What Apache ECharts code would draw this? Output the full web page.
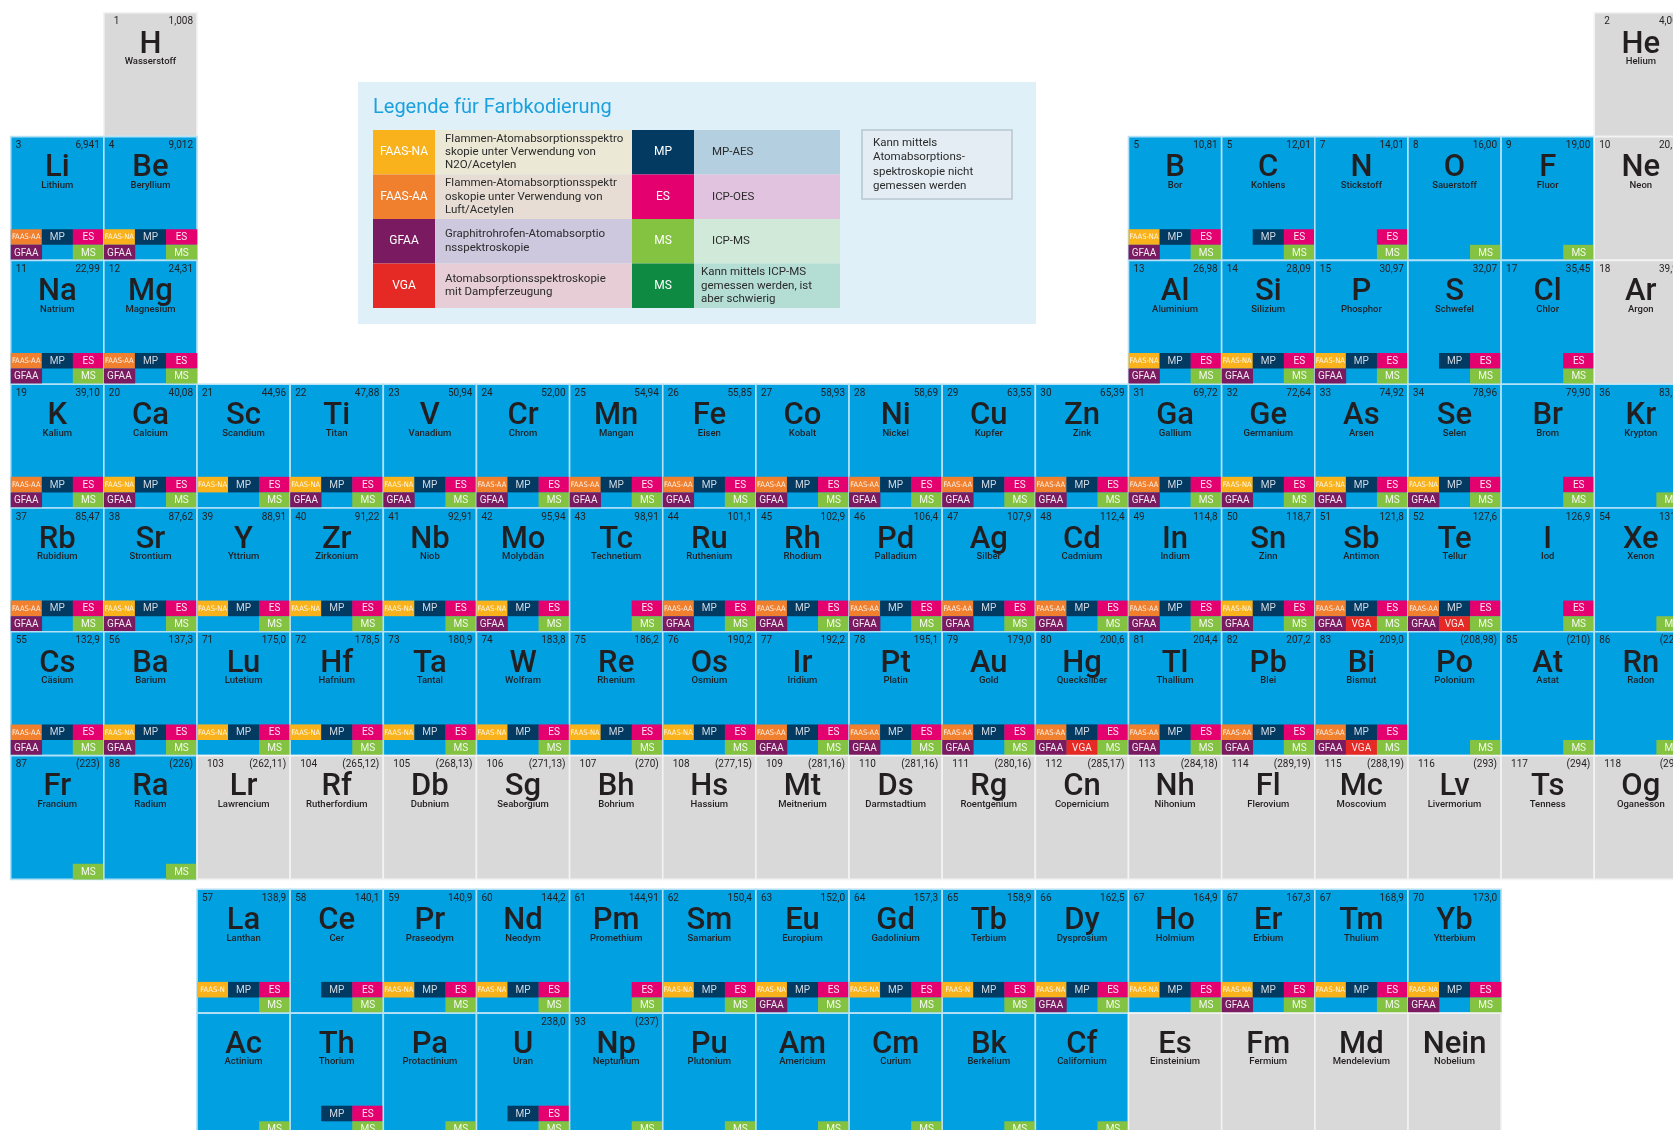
<!DOCTYPE html>
<html>
<head>
<meta charset="utf-8">
<title>Periodensystem – Messmethoden</title>
<script src="https://cdn.jsdelivr.net/npm/echarts@6/dist/echarts.min.js"></script>
<style>
  html, body { margin: 0; padding: 0; background: #fff; }
  #chart { width: 1673px; height: 1130px; }
</style>
</head>
<body>
<div id="chart"></div>
<script>
// [Symbol, Name, Ordnungszahl, Atommasse, Spalte, Methoden]
// Methoden: NA/AA/N = FAAS, MP, ES, GF = GFAA, VG = VGA, MS ; X = grau (nicht messbar)
var period1 = [
  ['H', 'Wasserstoff', '1', '1,008', 1, 'X'],
  ['He', 'Helium', '2', '4,003', 17, 'X']
];
var period2 = [
  ['Li', 'Lithium', '3', '6,941', 0, 'AA MP ES GF MS'],
  ['Be', 'Beryllium', '4', '9,012', 1, 'NA MP ES GF MS'],
  ['B', 'Bor', '5', '10,81', 12, 'NA MP ES GF MS'],
  ['C', 'Kohlens', '5', '12,01', 13, 'MP ES MS'],
  ['N', 'Stickstoff', '7', '14,01', 14, 'ES MS'],
  ['O', 'Sauerstoff', '8', '16,00', 15, 'MS'],
  ['F', 'Fluor', '9', '19,00', 16, 'MS'],
  ['Ne', 'Neon', '10', '20,18', 17, 'X']
];
var period3 = [
  ['Na', 'Natrium', '11', '22,99', 0, 'AA MP ES GF MS'],
  ['Mg', 'Magnesium', '12', '24,31', 1, 'AA MP ES GF MS'],
  ['Al', 'Aluminium', '13', '26,98', 12, 'NA MP ES GF MS'],
  ['Si', 'Silizium', '14', '28,09', 13, 'NA MP ES GF MS'],
  ['P', 'Phosphor', '15', '30,97', 14, 'NA MP ES GF MS'],
  ['S', 'Schwefel', '', '32,07', 15, 'MP ES MS'],
  ['Cl', 'Chlor', '17', '35,45', 16, 'ES MS'],
  ['Ar', 'Argon', '18', '39,95', 17, 'X']
];
var period4 = [
  ['K', 'Kalium', '19', '39,10', 0, 'AA MP ES GF MS'],
  ['Ca', 'Calcium', '20', '40,08', 1, 'NA MP ES GF MS'],
  ['Sc', 'Scandium', '21', '44,96', 2, 'NA MP ES MS'],
  ['Ti', 'Titan', '22', '47,88', 3, 'NA MP ES GF MS'],
  ['V', 'Vanadium', '23', '50,94', 4, 'NA MP ES GF MS'],
  ['Cr', 'Chrom', '24', '52,00', 5, 'AA MP ES GF MS'],
  ['Mn', 'Mangan', '25', '54,94', 6, 'AA MP ES GF MS'],
  ['Fe', 'Eisen', '26', '55,85', 7, 'AA MP ES GF MS'],
  ['Co', 'Kobalt', '27', '58,93', 8, 'AA MP ES GF MS'],
  ['Ni', 'Nickel', '28', '58,69', 9, 'AA MP ES GF MS'],
  ['Cu', 'Kupfer', '29', '63,55', 10, 'AA MP ES GF MS'],
  ['Zn', 'Zink', '30', '65,39', 11, 'AA MP ES GF MS'],
  ['Ga', 'Gallium', '31', '69,72', 12, 'AA MP ES GF MS'],
  ['Ge', 'Germanium', '32', '72,64', 13, 'NA MP ES GF MS'],
  ['As', 'Arsen', '33', '74,92', 14, 'NA MP ES GF MS'],
  ['Se', 'Selen', '34', '78,96', 15, 'NA MP ES GF MS'],
  ['Br', 'Brom', '', '79,90', 16, 'ES MS'],
  ['Kr', 'Krypton', '36', '83,80', 17, 'MS']
];
var period5 = [
  ['Rb', 'Rubidium', '37', '85,47', 0, 'AA MP ES GF MS'],
  ['Sr', 'Strontium', '38', '87,62', 1, 'NA MP ES GF MS'],
  ['Y', 'Yttrium', '39', '88,91', 2, 'NA MP ES MS'],
  ['Zr', 'Zirkonium', '40', '91,22', 3, 'NA MP ES MS'],
  ['Nb', 'Niob', '41', '92,91', 4, 'NA MP ES MS'],
  ['Mo', 'Molybdän', '42', '95,94', 5, 'NA MP ES GF MS'],
  ['Tc', 'Technetium', '43', '98,91', 6, 'ES MS'],
  ['Ru', 'Ruthenium', '44', '101,1', 7, 'AA MP ES GF MS'],
  ['Rh', 'Rhodium', '45', '102,9', 8, 'AA MP ES GF MS'],
  ['Pd', 'Palladium', '46', '106,4', 9, 'AA MP ES GF MS'],
  ['Ag', 'Silber', '47', '107,9', 10, 'AA MP ES GF MS'],
  ['Cd', 'Cadmium', '48', '112,4', 11, 'AA MP ES GF MS'],
  ['In', 'Indium', '49', '114,8', 12, 'AA MP ES GF MS'],
  ['Sn', 'Zinn', '50', '118,7', 13, 'NA MP ES GF MS'],
  ['Sb', 'Antimon', '51', '121,8', 14, 'AA MP ES GF VG MS'],
  ['Te', 'Tellur', '52', '127,6', 15, 'AA MP ES GF VG MS'],
  ['I', 'Iod', '', '126,9', 16, 'ES MS'],
  ['Xe', 'Xenon', '54', '131,3', 17, 'MS']
];
var period6 = [
  ['Cs', 'Cäsium', '55', '132,9', 0, 'AA MP ES GF MS'],
  ['Ba', 'Barium', '56', '137,3', 1, 'NA MP ES GF MS'],
  ['Lu', 'Lutetium', '71', '175,0', 2, 'NA MP ES MS'],
  ['Hf', 'Hafnium', '72', '178,5', 3, 'NA MP ES MS'],
  ['Ta', 'Tantal', '73', '180,9', 4, 'NA MP ES MS'],
  ['W', 'Wolfram', '74', '183,8', 5, 'NA MP ES MS'],
  ['Re', 'Rhenium', '75', '186,2', 6, 'NA MP ES MS'],
  ['Os', 'Osmium', '76', '190,2', 7, 'NA MP ES MS'],
  ['Ir', 'Iridium', '77', '192,2', 8, 'AA MP ES GF MS'],
  ['Pt', 'Platin', '78', '195,1', 9, 'AA MP ES GF MS'],
  ['Au', 'Gold', '79', '179,0', 10, 'AA MP ES GF MS'],
  ['Hg', 'Quecksilber', '80', '200,6', 11, 'AA MP ES GF VG MS'],
  ['Tl', 'Thallium', '81', '204,4', 12, 'AA MP ES GF MS'],
  ['Pb', 'Blei', '82', '207,2', 13, 'AA MP ES GF MS'],
  ['Bi', 'Bismut', '83', '209,0', 14, 'AA MP ES GF VG MS'],
  ['Po', 'Polonium', '', '(208,98)', 15, 'MS'],
  ['At', 'Astat', '85', '(210)', 16, 'MS'],
  ['Rn', 'Radon', '86', '(222)', 17, 'MS']
];
var period7 = [
  ['Fr', 'Francium', '87', '(223)', 0, 'MS'],
  ['Ra', 'Radium', '88', '(226)', 1, 'MS'],
  ['Lr', 'Lawrencium', '103', '(262,11)', 2, 'X'],
  ['Rf', 'Rutherfordium', '104', '(265,12)', 3, 'X'],
  ['Db', 'Dubnium', '105', '(268,13)', 4, 'X'],
  ['Sg', 'Seaborgium', '106', '(271,13)', 5, 'X'],
  ['Bh', 'Bohrium', '107', '(270)', 6, 'X'],
  ['Hs', 'Hassium', '108', '(277,15)', 7, 'X'],
  ['Mt', 'Meitnerium', '109', '(281,16)', 8, 'X'],
  ['Ds', 'Darmstadtium', '110', '(281,16)', 9, 'X'],
  ['Rg', 'Roentgenium', '111', '(280,16)', 10, 'X'],
  ['Cn', 'Copernicium', '112', '(285,17)', 11, 'X'],
  ['Nh', 'Nihonium', '113', '(284,18)', 12, 'X'],
  ['Fl', 'Flerovium', '114', '(289,19)', 13, 'X'],
  ['Mc', 'Moscovium', '115', '(288,19)', 14, 'X'],
  ['Lv', 'Livermorium', '116', '(293)', 15, 'X'],
  ['Ts', 'Tenness', '117', '(294)', 16, 'X'],
  ['Og', 'Oganesson', '118', '(294)', 17, 'X']
];
var lanthanides = [
  ['La', 'Lanthan', '57', '138,9', 2, 'N MP ES MS'],
  ['Ce', 'Cer', '58', '140,1', 3, 'MP ES MS'],
  ['Pr', 'Praseodym', '59', '140,9', 4, 'NA MP ES MS'],
  ['Nd', 'Neodym', '60', '144,2', 5, 'NA MP ES MS'],
  ['Pm', 'Promethium', '61', '144,91', 6, 'ES MS'],
  ['Sm', 'Samarium', '62', '150,4', 7, 'NA MP ES MS'],
  ['Eu', 'Europium', '63', '152,0', 8, 'NA MP ES GF MS'],
  ['Gd', 'Gadolinium', '64', '157,3', 9, 'NA MP ES MS'],
  ['Tb', 'Terbium', '65', '158,9', 10, 'N MP ES MS'],
  ['Dy', 'Dysprosium', '66', '162,5', 11, 'NA MP ES GF MS'],
  ['Ho', 'Holmium', '67', '164,9', 12, 'NA MP ES MS'],
  ['Er', 'Erbium', '67', '167,3', 13, 'NA MP ES GF MS'],
  ['Tm', 'Thulium', '67', '168,9', 14, 'NA MP ES MS'],
  ['Yb', 'Ytterbium', '70', '173,0', 15, 'NA MP ES GF MS']
];
var actinides = [
  ['Ac', 'Actinium', '', '', 2, 'MS'],
  ['Th', 'Thorium', '', '', 3, 'MP ES MS'],
  ['Pa', 'Protactinium', '', '', 4, 'MS'],
  ['U', 'Uran', '', '238,0', 5, 'MP ES MS'],
  ['Np', 'Neptunium', '93', '(237)', 6, 'MS'],
  ['Pu', 'Plutonium', '', '', 7, 'MS'],
  ['Am', 'Americium', '', '', 8, 'MS'],
  ['Cm', 'Curium', '', '', 9, 'MS'],
  ['Bk', 'Berkelium', '', '', 10, 'MS'],
  ['Cf', 'Californium', '', '', 11, 'MS'],
  ['Es', 'Einsteinium', '', '', 12, 'X'],
  ['Fm', 'Fermium', '', '', 13, 'X'],
  ['Md', 'Mendelevium', '', '', 14, 'X'],
  ['Nein', 'Nobelium', '', '', 15, 'X']
];

// Legende
var legendCodesLeft = ['FAAS-NA', 'FAAS-AA', 'GFAA', 'VGA'];
var legendTextsLeft = [
  'Flammen-Atomabsorptionsspektro\nskopie unter Verwendung von\nN2O/Acetylen',
  'Flammen-Atomabsorptionsspektr\noskopie unter Verwendung von\nLuft/Acetylen',
  'Graphitrohrofen-Atomabsorptio\nnsspektroskopie',
  'Atomabsorptionsspektroskopie\nmit Dampferzeugung'
];
var legendCodesRight = ['MP', 'ES', 'MS', 'MS'];
var legendTextsRight = ['MP-AES', 'ICP-OES', 'ICP-MS', 'Kann mittels ICP-MS\ngemessen werden, ist\naber schwierig'];
var legendNote = 'Kann mittels\nAtomabsorptions-\nspektroskopie nicht\ngemessen werden';

var badgeColors = {
  NA: '#f9b21b', AA: '#f07f2e', N: '#f9b21b', MP: '#023a62', ES: '#e4006f',
  GF: '#7a1a61', VG: '#e52a25', MS: '#84c242'
};
var badgeLabels = {
  NA: 'FAAS-NA', AA: 'FAAS-AA', N: 'FAAS-N', MP: 'MP', ES: 'ES', GF: 'GFAA', VG: 'VGA', MS: 'MS'
};
// Platz im 3x2-Raster unten in der Zelle
var badgeSlots = {
  NA: [0, 0], AA: [0, 0], N: [0, 0], MP: [1, 0], ES: [2, 0], GF: [0, 1], VG: [1, 1], MS: [2, 1]
};

var periods = [period1, period2, period3, period4, period5, period6, period7, lanthanides, actinides];
var rowValues = [0, 1, 2, 3, 4, 5, 6, 7.08, 8.08];

var cells = [];
var seriesData = [];
periods.forEach(function (list, p) {
  list.forEach(function (e) {
    cells.push({ sym: e[0], name: e[1], num: e[2], weight: e[3], methods: e[5], row: p });
    seriesData.push([e[4], rowValues[p]]);
  });
});

function txt(s, x, y, align, font, fill) {
  return {
    type: 'text',
    style: {
      text: s, x: x, y: y, font: font, fill: fill || '#231f20',
      textAlign: align, textVerticalAlign: 'middle'
    }
  };
}

function renderCell(params, api) {
  var el = cells[params.dataIndex];
  var a = api.coord([api.value(0), api.value(1)]);
  var b = api.coord([api.value(0) + 1, api.value(1) + 1]);
  var x = a[0], y = a[1], w = b[0] - a[0], h = b[1] - a[1];
  var gray = el.methods === 'X';
  var children = [{
    type: 'rect',
    shape: { x: x, y: y, width: w, height: h },
    style: {
      fill: gray ? '#d9d9d9' : '#00a0e1',
      stroke: gray ? '#f3f3f3' : '#b4e1f6',
      lineWidth: 1.6
    }
  }];
  var padL = (el.row === 6 && gray) || el.row === 0 ? 10 : 5;
  children.push(txt(el.num, x + padL, y + 9, 'left', '10px Roboto'));
  children.push(txt(el.weight, x + w - 4, y + 9, 'right', '10px Roboto'));
  children.push(txt(el.sym, x + w / 2, y + 32, 'center', '500 31px Roboto'));
  children.push(txt(el.name, x + w / 2, y + 49, 'center', '500 9.5px Roboto'));

  if (!gray && el.methods) {
    var bw = w / 3, bh = 15.6;
    el.methods.split(' ').forEach(function (m) {
      var slot = badgeSlots[m];
      var bx = x + slot[0] * bw;
      var by = y + h - 2 * bh + slot[1] * bh;
      children.push({
        type: 'rect',
        shape: { x: bx, y: by, width: bw + 0.3, height: bh },
        style: { fill: badgeColors[m] }
      });
      var small = m === 'NA' || m === 'AA' || m === 'N';
      children.push(txt(badgeLabels[m], bx + bw / 2, by + bh / 2 + 0.5, 'center',
        small ? '7.5px "Liberation Sans Narrow", "DejaVu Sans Condensed", Roboto' : '10px Roboto',
        m === 'MP' ? '#cfd9e2' : 'rgba(255,255,255,0.9)'));
    });
  }
  return { type: 'group', children: children };
}

// Legendenkasten als Grafik
var LX = 358, LY = 82;
var rowTop = 130, rowH = 44.5;
var legendGraphic = [
  { type: 'rect', shape: { x: LX, y: LY, width: 678, height: 242 }, style: { fill: '#dff0f9' } },
  {
    type: 'text',
    style: { text: 'Legende für Farbkodierung', x: 373, y: 108, font: '20px Roboto', fill: '#1ba1de', textVerticalAlign: 'middle' }
  },
  {
    type: 'rect', shape: { x: 862, y: 130, width: 150, height: 69 },
    style: { fill: '#e3edf3', stroke: '#b9c6ce', lineWidth: 1.5 }
  },
  {
    type: 'text',
    style: { text: legendNote, x: 873, y: 164.5, font: '11.5px Roboto', fill: '#2b2b2b', lineHeight: 14.5, textVerticalAlign: 'middle' }
  }
];
var leftCodeColors = ['#f9b21b', '#f07f2e', '#7a1a61', '#e52a25'];
var leftTextBg = ['#ebe8d6', '#e7ddd4', '#cec8df', '#e6cdd6'];
var rightCodeColors = ['#023a62', '#e4006f', '#84c242', '#0e8a43'];
var rightTextBg = ['#b4cfe0', '#e2c3df', '#d0e9d8', '#b4ddd4'];
legendCodesLeft.forEach(function (c, i) {
  var ty = rowTop + i * rowH;
  var cy = ty + rowH / 2;
  legendGraphic.push(
    { type: 'rect', shape: { x: 373, y: ty, width: 62, height: rowH }, style: { fill: leftCodeColors[i] } },
    { type: 'rect', shape: { x: 435, y: ty, width: 197, height: rowH }, style: { fill: leftTextBg[i] } },
    { type: 'rect', shape: { x: 632, y: ty, width: 62, height: rowH }, style: { fill: rightCodeColors[i] } },
    { type: 'rect', shape: { x: 694, y: ty, width: 146, height: rowH }, style: { fill: rightTextBg[i] } },
    { type: 'text', style: { text: c, x: 404, y: cy, font: '12px Roboto', fill: '#fff', textAlign: 'center', textVerticalAlign: 'middle' } },
    { type: 'text', style: { text: legendTextsLeft[i], x: 445, y: cy, font: '11.5px Roboto', fill: '#2b2b2b', lineHeight: 13.3, textVerticalAlign: 'middle' } },
    { type: 'text', style: { text: legendCodesRight[i], x: 663, y: cy, font: '12px Roboto', fill: '#fff', textAlign: 'center', textVerticalAlign: 'middle' } },
    {
      type: 'text',
      style: {
        text: legendTextsRight[i], x: i === 3 ? 701 : 712, y: cy,
        font: '11.5px Roboto', fill: '#2b2b2b', lineHeight: 13.3, textVerticalAlign: 'middle'
      }
    }
  );
});

// Spaltenbreite 93,15 px; das Raster läuft rechts über den Bildrand hinaus
var gridLeft = 10.7;
var colWidth = 93.15;
var visibleCols = (1673 - gridLeft) / colWidth;

var myChart = echarts.init(document.getElementById('chart'));
var option = {
  animation: false,
  grid: { left: gridLeft, right: 0, top: 12.8, height: 1114.2 },
  xAxis: { type: 'value', min: 0, max: visibleCols, show: false },
  yAxis: { type: 'value', min: 0, max: 9, inverse: true, show: false },
  graphic: legendGraphic,
  series: [{
    type: 'custom',
    renderItem: renderCell,
    clip: false,
    data: seriesData
  }]
};
myChart.setOption(option);
</script>
</body>
</html>
